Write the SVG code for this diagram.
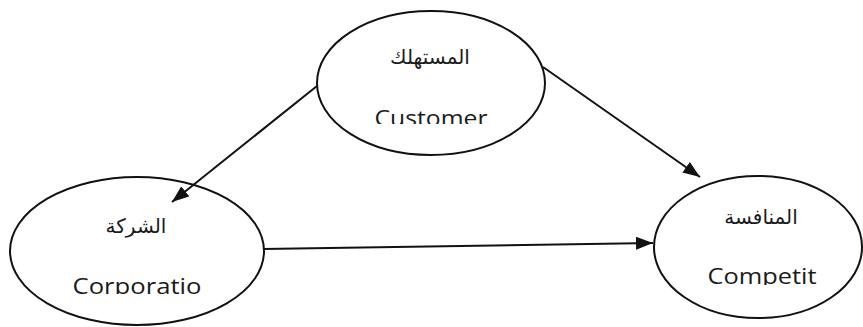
<svg xmlns="http://www.w3.org/2000/svg" width="863" height="327" viewBox="0 0 863 327">
  <style>
    .node { fill: #ffffff; stroke: #111111; stroke-width: 2; }
    .ar { font-family: "DejaVu Sans", "Noto Sans", sans-serif; font-size: 20px; fill: #1a1a1a; text-anchor: middle; }
    .en { font-family: "Open Sans", "Liberation Sans", sans-serif; font-size: 22px; fill: #1a1a1a; text-anchor: middle; }
    .conn { stroke: #111111; stroke-width: 2; fill: none; marker-end: url(#arrow); }
  </style>
  <defs>
    <marker id="arrow" markerUnits="userSpaceOnUse" markerWidth="18" markerHeight="13" refX="17" refY="6.5" orient="auto">
      <path d="M0,0 L17,6.5 L0,13 z" fill="#111111"/>
    </marker>
    <clipPath id="clipCustomer"><rect x="300" y="90" width="260" height="34"/></clipPath>
    <clipPath id="clipCorporation"><rect x="0" y="260" width="280" height="34"/></clipPath>
    <clipPath id="clipCompetition"><rect x="640" y="250" width="223" height="35"/></clipPath>
  </defs>
  <rect width="863" height="327" fill="#ffffff"/>

  <g id="customer">
    <ellipse class="node" cx="431" cy="83" rx="114" ry="72"/>
    <text class="ar" x="430" y="64" direction="rtl">المستهلك</text>
    <text class="en" x="431" y="126" textLength="113" lengthAdjust="spacingAndGlyphs" clip-path="url(#clipCustomer)">Customer</text>
  </g>

  <g id="corporation">
    <ellipse class="node" cx="137" cy="251" rx="127" ry="74"/>
    <text class="ar" x="136" y="233" direction="rtl">الشركة</text>
    <text class="en" x="137" y="294" textLength="129" lengthAdjust="spacingAndGlyphs" clip-path="url(#clipCorporation)">Corporatio</text>
  </g>

  <g id="competition">
    <ellipse class="node" cx="758" cy="247" rx="104" ry="71"/>
    <text class="ar" x="761" y="224" direction="rtl">المنافسة</text>
    <text class="en" x="762" y="284" textLength="109" lengthAdjust="spacingAndGlyphs" clip-path="url(#clipCompetition)">Competit</text>
  </g>

  <g id="connectors">
    <line class="conn" x1="317" y1="86" x2="172" y2="202"/>
    <line class="conn" x1="543" y1="67" x2="700" y2="177"/>
    <line class="conn" x1="263" y1="249" x2="653" y2="243"/>
  </g>
</svg>
